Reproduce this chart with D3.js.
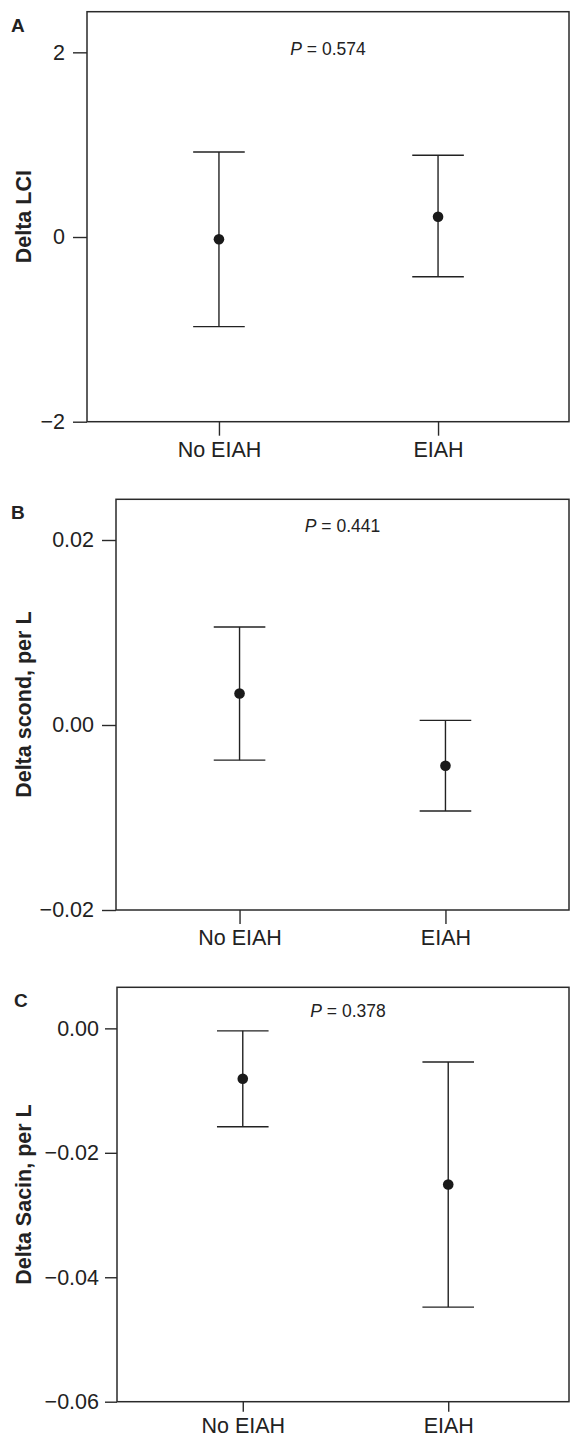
<!DOCTYPE html>
<html lang="en">
<head>
    <meta charset="UTF-8">
    <title>EIAH deltas</title>
    <style>
        body { margin: 0; background: #fff; }
        text { font-family: "Liberation Sans", Arial, sans-serif; fill: #222; }
    </style>
</head>
<body>
<script src="https://d3js.org/d3.v7.min.js"></script>
<script>
    // data (mean and 95% CI per group)
    const groups = ["No EIAH", "EIAH"];

    const lciMean = [-0.025, 0.22];
    const lciLower = [-0.97, -0.43];
    const lciUpper = [0.92, 0.885];

    const scondMean = [0.0034, -0.0044];
    const scondLower = [-0.0038, -0.0093];
    const scondUpper = [0.0106, 0.0005];

    const sacinMean = [-0.0081, -0.0251];
    const sacinLower = [-0.0158, -0.0448];
    const sacinUpper = [-0.0004, -0.0054];

    const pValues = ["0.574", "0.441", "0.378"];
    const panelLetters = ["A", "B", "C"];
    const yTitles = ["Delta LCI", "Delta scond, per L", "Delta Sacin, per L"];

    const lciTicks = [-2, 0, 2];
    const scondTicks = [-0.02, 0.00, 0.02];
    const sacinTicks = [-0.06, -0.04, -0.02, 0.00];

    const width = 570;
    const height = 1439;

    const svg = d3.select("body").append("svg")
        .attr("width", width)
        .attr("height", height);

    // layout of each panel (box edges in page px)
    const panels = [
        {mean: lciMean, lower: lciLower, upper: lciUpper, ticks: lciTicks, fmt: d3.format("d"),
            domain: [-2, 2.44], left: 87, top: 11.7, bottom: 421.7, ySize: 14, yPad: 8, xSize: 14, xShift: 0.5, pOff: 43},
        {mean: scondMean, lower: scondLower, upper: scondUpper, ticks: scondTicks, fmt: d3.format(".2f"),
            domain: [-0.02, 0.0244], left: 116, top: 499.3, bottom: 910, ySize: 14, yPad: 8, xSize: 14, xShift: 0, pOff: 33},
        {mean: sacinMean, lower: sacinLower, upper: sacinUpper, ticks: sacinTicks, fmt: d3.format(".2f"),
            domain: [-0.06, 0.0066], left: 117, top: 987.3, bottom: 1401.7, ySize: 12, yPad: 6, xSize: 10, xShift: 2.5, pOff: 30}
    ];
    const right = 569;

    panels.forEach((p, i) => {
        const g = svg.append("g");

        const xScale = d3.scalePoint()
            .domain(groups)
            .range([p.left + p.xShift, right + p.xShift])
            .padding(0.6);

        const yScale = d3.scaleLinear()
            .domain(p.domain)
            .range([p.bottom, p.top]);

        // frame
        g.append("rect")
            .attr("x", p.left)
            .attr("y", p.top)
            .attr("width", right - p.left)
            .attr("height", p.bottom - p.top)
            .attr("fill", "none")
            .attr("stroke", "#2a2a2a")
            .attr("stroke-width", 1.5);

        // Y axis
        const yAxis = g.append("g")
            .attr("transform", "translate(" + p.left + ",0)")
            .call(d3.axisLeft(yScale)
                .tickValues(p.ticks)
                .tickFormat(p.fmt)
                .tickSize(p.ySize)
                .tickPadding(p.yPad));
        yAxis.select(".domain").remove();
        yAxis.selectAll("line").attr("stroke", "#2a2a2a").attr("stroke-width", 1.4);
        yAxis.selectAll("text").style("font-size", "21.5px").attr("fill", "#222");

        // X axis
        const xAxis = g.append("g")
            .attr("transform", "translate(0," + p.bottom + ")")
            .call(d3.axisBottom(xScale)
                .tickSize(p.xSize)
                .tickPadding(6));
        xAxis.select(".domain").remove();
        xAxis.selectAll("line").attr("stroke", "#2a2a2a").attr("stroke-width", 1.4);
        xAxis.selectAll("text").style("font-size", "21.5px").attr("fill", "#222");

        // error bars
        const rows = groups.map((name, j) => ({name: name, mean: p.mean[j], lo: p.lower[j], hi: p.upper[j]}));
        const cap = 25.8;

        g.selectAll(".whisker")
            .data(rows)
            .enter().append("line")
            .attr("x1", d => xScale(d.name))
            .attr("x2", d => xScale(d.name))
            .attr("y1", d => yScale(d.hi))
            .attr("y2", d => yScale(d.lo))
            .attr("stroke", "#222")
            .attr("stroke-width", 1.4);

        ["hi", "lo"].forEach(k => {
            g.selectAll(".cap-" + k)
                .data(rows)
                .enter().append("line")
                .attr("x1", d => xScale(d.name) - cap)
                .attr("x2", d => xScale(d.name) + cap)
                .attr("y1", d => yScale(d[k]))
                .attr("y2", d => yScale(d[k]))
                .attr("stroke", "#222")
                .attr("stroke-width", 1.4);
        });

        g.selectAll(".dot")
            .data(rows)
            .enter().append("circle")
            .attr("cx", d => xScale(d.name))
            .attr("cy", d => yScale(d.mean))
            .attr("r", 5.3)
            .attr("fill", "#1a1a1a");

        // P value
        const pText = g.append("text")
            .attr("x", (p.left + right) / 2 + (i === 2 ? 5 : 0))
            .attr("y", p.top + p.pOff)
            .attr("text-anchor", "middle")
            .style("font-size", "17.5px");
        pText.append("tspan").style("font-style", "italic").text("P");
        pText.append("tspan").text(" = " + pValues[i]);

        // Y title
        g.append("text")
            .attr("transform", "translate(31," + (p.top + p.bottom) / 2 + ") rotate(-90)")
            .attr("text-anchor", "middle")
            .style("font-size", "21.5px")
            .style("font-weight", "bold")
            .text(yTitles[i]);

        // panel letter
        g.append("text")
            .attr("x", i === 2 ? 14 : 11)
            .attr("y", p.top + 20)
            .style("font-size", "19px")
            .style("font-weight", "bold")
            .text(panelLetters[i]);
    });
</script>
</body>
</html>
